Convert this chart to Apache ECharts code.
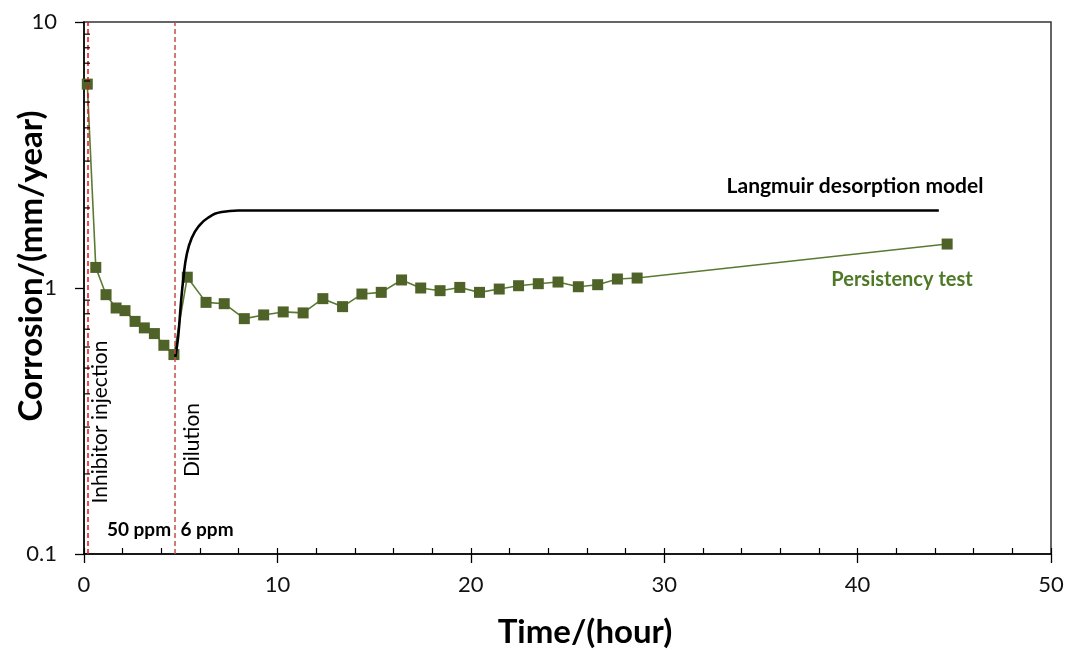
<!DOCTYPE html>
<html><head><meta charset="utf-8">
<script src="https://cdn.jsdelivr.net/npm/echarts@6/dist/echarts.min.js"></script>
<style>html,body{margin:0;padding:0;background:#fff}#c{width:1069px;height:650px}</style>
</head><body><div id="c"></div>
<script>
// Persistency test (measured points)
const persistX = [0.17,0.61,1.14,1.66,2.12,2.64,3.12,3.64,4.13,4.65,5.34,6.31,7.25,8.29,9.29,10.30,11.33,12.35,13.37,14.37,15.37,16.42,17.41,18.41,19.43,20.45,21.47,22.47,23.49,24.51,25.56,26.56,27.58,28.60,44.63];
const persistY = [5.84,1.195,0.944,0.841,0.822,0.749,0.708,0.674,0.609,0.562,1.098,0.883,0.873,0.767,0.792,0.813,0.806,0.912,0.851,0.949,0.963,1.072,1.0,0.977,1.005,0.963,0.991,1.02,1.038,1.053,1.011,1.029,1.081,1.09,1.463];
// Langmuir desorption model
const modelX = [4.72,4.80,4.88,5.02,5.14,5.31,5.57,5.92,6.43,7.12,7.98,9.5,44.2];
const modelY = [0.55,0.60,0.668,0.891,1.09,1.334,1.541,1.703,1.841,1.93,1.956,1.956,1.956];
// Event lines (inhibitor injection, dilution)
const eventX = [0.19, 4.69];
const eventNames = ['Inhibitor injection', 'Dilution'];
// Log-axis minor ticks
const yMinorTicks = [0.2,0.3,0.4,0.5,0.6,0.7,0.8,0.9,2,3,4,5,6,7,8,9];
const yTickLabels = ['0.1','1','10'];

const FONT = 'Lato';
const chart = echarts.init(document.getElementById('c'), null, {renderer:'canvas'});
const axisLineStyle = {color:'#000', width:1.5};
chart.setOption({
  backgroundColor:'#fff',
  animation:false,
  grid:{left:84, right:18, top:22, bottom:96, show:true, borderColor:'#333', borderWidth:1.5, backgroundColor:'transparent'},
  xAxis:[{
    type:'value', min:0, max:50, interval:10, position:'bottom',
    axisLine:{show:true, onZero:false, lineStyle:axisLineStyle},
    axisTick:{show:true, inside:false, length:9, lineStyle:{color:'#000', width:1.3}},
    axisLabel:{fontFamily:FONT, fontSize:22, color:'#111', margin:20},
    splitLine:{show:false}
  },{
    type:'value', min:0, max:50, interval:2, position:'bottom',
    axisLine:{show:false},
    axisTick:{show:true, inside:true, length:6, lineStyle:{color:'#000', width:1.2}},
    axisLabel:{show:false},
    splitLine:{show:false}
  }],
  yAxis:{
    type:'log', logBase:10, min:0.1, max:10,
    axisLine:{show:true, onZero:false, lineStyle:axisLineStyle},
    axisTick:{show:true, inside:false, length:9, lineStyle:{color:'#000', width:1.3}},
    axisLabel:{fontFamily:FONT, fontSize:22, color:'#111', margin:27,
      formatter:function(v){ const i=Math.round(Math.log10(v))+1; return yTickLabels[i]; }},
    splitLine:{show:false}, minorTick:{show:false}
  },
  series:[
    {
      type:'line', name:'Persistency test',
      data: persistX.map((x,i)=>[x, persistY[i]]),
      symbol:'rect', symbolSize:11, showSymbol:true,
      itemStyle:{color:'#4f6228'},
      lineStyle:{color:'#5a7a32', width:1.6},
      z:3,
      markLine:{
        silent:true, symbol:'none', animation:false,
        label:{show:false},
        lineStyle:{type:[5,3], width:1.5},
        data:[
          {xAxis:eventX[0], lineStyle:{color:'#e3141c'}},
          {xAxis:eventX[1], lineStyle:{color:'#c0504d'}}
        ]
      }
    },
    {
      type:'line', name:'Langmuir desorption model',
      data: modelX.map((x,i)=>[x, modelY[i]]),
      showSymbol:false, symbol:'none', smooth:0.5,
      lineStyle:{color:'#000', width:2.6}, z:4
    },
    {
      type:'custom', name:'minor', silent:true,
      data: yMinorTicks.map(v=>[0, v]),
      renderItem:function(params, api){
        const p = api.coord([0, api.value(1)]);
        return {type:'line', shape:{x1:p[0], y1:p[1], x2:p[0]+6, y2:p[1]}, style:{stroke:'#000', lineWidth:1.2}};
      },
      clip:false, z:5
    }
  ],
  graphic:[
    {type:'text', x:31, y:266, rotation:Math.PI/2, style:{text:'Corrosion/(mm/year)', font:'bold 33px '+FONT, fill:'#000', align:'center', verticalAlign:'middle'}},
    {type:'text', x:585, y:632, style:{text:'Time/(hour)', font:'bold 33px '+FONT, fill:'#000', align:'center', verticalAlign:'middle'}},
    {type:'text', x:100, y:422, rotation:Math.PI/2, style:{text:eventNames[0], font:'21px '+FONT, fill:'#000', align:'center', verticalAlign:'middle'}},
    {type:'text', x:192, y:440, rotation:Math.PI/2, style:{text:eventNames[1], font:'21px '+FONT, fill:'#000', align:'center', verticalAlign:'middle'}},
    {type:'text', x:139, y:530, style:{text:'50 ppm', font:'bold 19px '+FONT, fill:'#000', align:'center', verticalAlign:'middle'}},
    {type:'text', x:207, y:530, style:{text:'6 ppm', font:'bold 19px '+FONT, fill:'#000', align:'center', verticalAlign:'middle'}},
    {type:'text', x:855, y:186, style:{text:'Langmuir desorption model', font:'bold 21px '+FONT, fill:'#000', align:'center', verticalAlign:'middle'}},
    {type:'text', x:902, y:280, style:{text:'Persistency test', font:'bold 20px '+FONT, fill:'#4e7a28', align:'center', verticalAlign:'middle'}}
  ]
});
</script></body></html>
